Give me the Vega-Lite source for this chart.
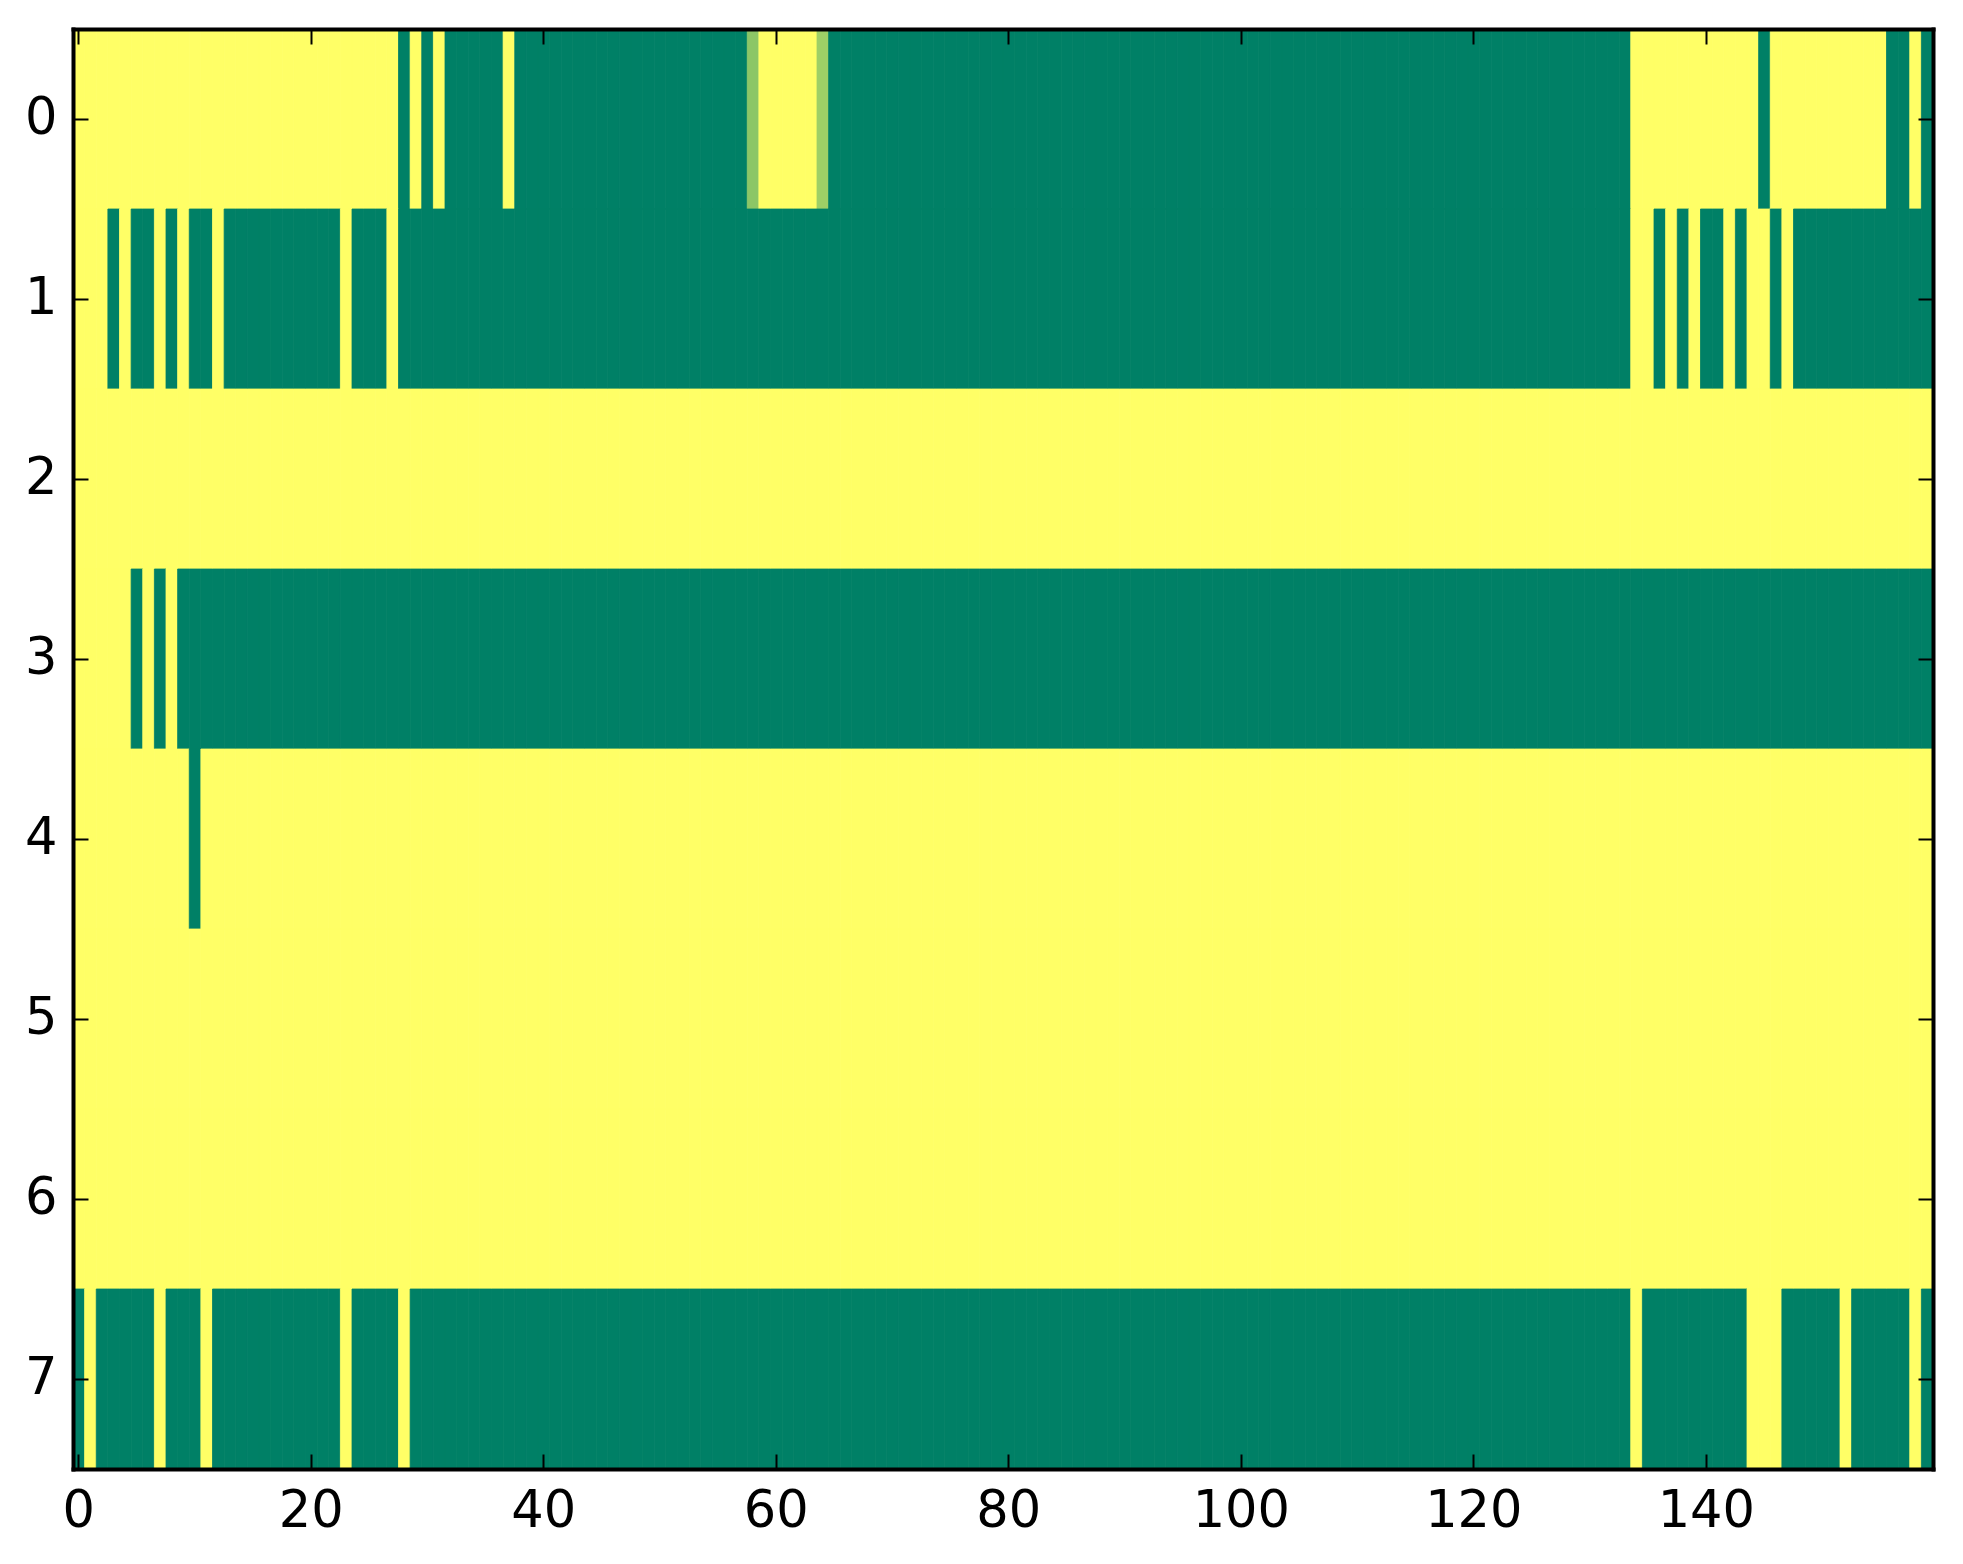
{
"$schema": "https://vega.github.io/schema/vega-lite/v6.json",
"width": 1860,
"height": 1440,
"autosize": {"type": "none"},
"padding": {"left": 73, "top": 29, "right": 30, "bottom": 95},
"background": "white",
"data": {"values": [
{"r":0,"c":0,"v":1},{"r":0,"c":1,"v":1},{"r":0,"c":2,"v":1},{"r":0,"c":3,"v":1},{"r":0,"c":4,"v":1},{"r":0,"c":5,"v":1},{"r":0,"c":6,"v":1},{"r":0,"c":7,"v":1},{"r":0,"c":8,"v":1},{"r":0,"c":9,"v":1},
{"r":0,"c":10,"v":1},{"r":0,"c":11,"v":1},{"r":0,"c":12,"v":1},{"r":0,"c":13,"v":1},{"r":0,"c":14,"v":1},{"r":0,"c":15,"v":1},{"r":0,"c":16,"v":1},{"r":0,"c":17,"v":1},{"r":0,"c":18,"v":1},{"r":0,"c":19,"v":1},
{"r":0,"c":20,"v":1},{"r":0,"c":21,"v":1},{"r":0,"c":22,"v":1},{"r":0,"c":23,"v":1},{"r":0,"c":24,"v":1},{"r":0,"c":25,"v":1},{"r":0,"c":26,"v":1},{"r":0,"c":27,"v":1},{"r":0,"c":28,"v":0},{"r":0,"c":29,"v":1},
{"r":0,"c":30,"v":0},{"r":0,"c":31,"v":1},{"r":0,"c":32,"v":0},{"r":0,"c":33,"v":0},{"r":0,"c":34,"v":0},{"r":0,"c":35,"v":0},{"r":0,"c":36,"v":0},{"r":0,"c":37,"v":1},{"r":0,"c":38,"v":0},{"r":0,"c":39,"v":0},
{"r":0,"c":40,"v":0},{"r":0,"c":41,"v":0},{"r":0,"c":42,"v":0},{"r":0,"c":43,"v":0},{"r":0,"c":44,"v":0},{"r":0,"c":45,"v":0},{"r":0,"c":46,"v":0},{"r":0,"c":47,"v":0},{"r":0,"c":48,"v":0},{"r":0,"c":49,"v":0},
{"r":0,"c":50,"v":0},{"r":0,"c":51,"v":0},{"r":0,"c":52,"v":0},{"r":0,"c":53,"v":0},{"r":0,"c":54,"v":0},{"r":0,"c":55,"v":0},{"r":0,"c":56,"v":0},{"r":0,"c":57,"v":0},{"r":0,"c":58,"v":0.55},{"r":0,"c":59,"v":1},
{"r":0,"c":60,"v":1},{"r":0,"c":61,"v":1},{"r":0,"c":62,"v":1},{"r":0,"c":63,"v":1},{"r":0,"c":64,"v":0.62},{"r":0,"c":65,"v":0},{"r":0,"c":66,"v":0},{"r":0,"c":67,"v":0},{"r":0,"c":68,"v":0},{"r":0,"c":69,"v":0},
{"r":0,"c":70,"v":0},{"r":0,"c":71,"v":0},{"r":0,"c":72,"v":0},{"r":0,"c":73,"v":0},{"r":0,"c":74,"v":0},{"r":0,"c":75,"v":0},{"r":0,"c":76,"v":0},{"r":0,"c":77,"v":0},{"r":0,"c":78,"v":0},{"r":0,"c":79,"v":0},
{"r":0,"c":80,"v":0},{"r":0,"c":81,"v":0},{"r":0,"c":82,"v":0},{"r":0,"c":83,"v":0},{"r":0,"c":84,"v":0},{"r":0,"c":85,"v":0},{"r":0,"c":86,"v":0},{"r":0,"c":87,"v":0},{"r":0,"c":88,"v":0},{"r":0,"c":89,"v":0},
{"r":0,"c":90,"v":0},{"r":0,"c":91,"v":0},{"r":0,"c":92,"v":0},{"r":0,"c":93,"v":0},{"r":0,"c":94,"v":0},{"r":0,"c":95,"v":0},{"r":0,"c":96,"v":0},{"r":0,"c":97,"v":0},{"r":0,"c":98,"v":0},{"r":0,"c":99,"v":0},
{"r":0,"c":100,"v":0},{"r":0,"c":101,"v":0},{"r":0,"c":102,"v":0},{"r":0,"c":103,"v":0},{"r":0,"c":104,"v":0},{"r":0,"c":105,"v":0},{"r":0,"c":106,"v":0},{"r":0,"c":107,"v":0},{"r":0,"c":108,"v":0},{"r":0,"c":109,"v":0},
{"r":0,"c":110,"v":0},{"r":0,"c":111,"v":0},{"r":0,"c":112,"v":0},{"r":0,"c":113,"v":0},{"r":0,"c":114,"v":0},{"r":0,"c":115,"v":0},{"r":0,"c":116,"v":0},{"r":0,"c":117,"v":0},{"r":0,"c":118,"v":0},{"r":0,"c":119,"v":0},
{"r":0,"c":120,"v":0},{"r":0,"c":121,"v":0},{"r":0,"c":122,"v":0},{"r":0,"c":123,"v":0},{"r":0,"c":124,"v":0},{"r":0,"c":125,"v":0},{"r":0,"c":126,"v":0},{"r":0,"c":127,"v":0},{"r":0,"c":128,"v":0},{"r":0,"c":129,"v":0},
{"r":0,"c":130,"v":0},{"r":0,"c":131,"v":0},{"r":0,"c":132,"v":0},{"r":0,"c":133,"v":0},{"r":0,"c":134,"v":1},{"r":0,"c":135,"v":1},{"r":0,"c":136,"v":1},{"r":0,"c":137,"v":1},{"r":0,"c":138,"v":1},{"r":0,"c":139,"v":1},
{"r":0,"c":140,"v":1},{"r":0,"c":141,"v":1},{"r":0,"c":142,"v":1},{"r":0,"c":143,"v":1},{"r":0,"c":144,"v":1},{"r":0,"c":145,"v":0},{"r":0,"c":146,"v":1},{"r":0,"c":147,"v":1},{"r":0,"c":148,"v":1},{"r":0,"c":149,"v":1},
{"r":0,"c":150,"v":1},{"r":0,"c":151,"v":1},{"r":0,"c":152,"v":1},{"r":0,"c":153,"v":1},{"r":0,"c":154,"v":1},{"r":0,"c":155,"v":1},{"r":0,"c":156,"v":0},{"r":0,"c":157,"v":0},{"r":0,"c":158,"v":1},{"r":0,"c":159,"v":0},
{"r":1,"c":0,"v":1},{"r":1,"c":1,"v":1},{"r":1,"c":2,"v":1},{"r":1,"c":3,"v":0},{"r":1,"c":4,"v":1},{"r":1,"c":5,"v":0},{"r":1,"c":6,"v":0},{"r":1,"c":7,"v":1},{"r":1,"c":8,"v":0},{"r":1,"c":9,"v":1},
{"r":1,"c":10,"v":0},{"r":1,"c":11,"v":0},{"r":1,"c":12,"v":1},{"r":1,"c":13,"v":0},{"r":1,"c":14,"v":0},{"r":1,"c":15,"v":0},{"r":1,"c":16,"v":0},{"r":1,"c":17,"v":0},{"r":1,"c":18,"v":0},{"r":1,"c":19,"v":0},
{"r":1,"c":20,"v":0},{"r":1,"c":21,"v":0},{"r":1,"c":22,"v":0},{"r":1,"c":23,"v":1},{"r":1,"c":24,"v":0},{"r":1,"c":25,"v":0},{"r":1,"c":26,"v":0},{"r":1,"c":27,"v":1},{"r":1,"c":28,"v":0},{"r":1,"c":29,"v":0},
{"r":1,"c":30,"v":0},{"r":1,"c":31,"v":0},{"r":1,"c":32,"v":0},{"r":1,"c":33,"v":0},{"r":1,"c":34,"v":0},{"r":1,"c":35,"v":0},{"r":1,"c":36,"v":0},{"r":1,"c":37,"v":0},{"r":1,"c":38,"v":0},{"r":1,"c":39,"v":0},
{"r":1,"c":40,"v":0},{"r":1,"c":41,"v":0},{"r":1,"c":42,"v":0},{"r":1,"c":43,"v":0},{"r":1,"c":44,"v":0},{"r":1,"c":45,"v":0},{"r":1,"c":46,"v":0},{"r":1,"c":47,"v":0},{"r":1,"c":48,"v":0},{"r":1,"c":49,"v":0},
{"r":1,"c":50,"v":0},{"r":1,"c":51,"v":0},{"r":1,"c":52,"v":0},{"r":1,"c":53,"v":0},{"r":1,"c":54,"v":0},{"r":1,"c":55,"v":0},{"r":1,"c":56,"v":0},{"r":1,"c":57,"v":0},{"r":1,"c":58,"v":0},{"r":1,"c":59,"v":0},
{"r":1,"c":60,"v":0},{"r":1,"c":61,"v":0},{"r":1,"c":62,"v":0},{"r":1,"c":63,"v":0},{"r":1,"c":64,"v":0},{"r":1,"c":65,"v":0},{"r":1,"c":66,"v":0},{"r":1,"c":67,"v":0},{"r":1,"c":68,"v":0},{"r":1,"c":69,"v":0},
{"r":1,"c":70,"v":0},{"r":1,"c":71,"v":0},{"r":1,"c":72,"v":0},{"r":1,"c":73,"v":0},{"r":1,"c":74,"v":0},{"r":1,"c":75,"v":0},{"r":1,"c":76,"v":0},{"r":1,"c":77,"v":0},{"r":1,"c":78,"v":0},{"r":1,"c":79,"v":0},
{"r":1,"c":80,"v":0},{"r":1,"c":81,"v":0},{"r":1,"c":82,"v":0},{"r":1,"c":83,"v":0},{"r":1,"c":84,"v":0},{"r":1,"c":85,"v":0},{"r":1,"c":86,"v":0},{"r":1,"c":87,"v":0},{"r":1,"c":88,"v":0},{"r":1,"c":89,"v":0},
{"r":1,"c":90,"v":0},{"r":1,"c":91,"v":0},{"r":1,"c":92,"v":0},{"r":1,"c":93,"v":0},{"r":1,"c":94,"v":0},{"r":1,"c":95,"v":0},{"r":1,"c":96,"v":0},{"r":1,"c":97,"v":0},{"r":1,"c":98,"v":0},{"r":1,"c":99,"v":0},
{"r":1,"c":100,"v":0},{"r":1,"c":101,"v":0},{"r":1,"c":102,"v":0},{"r":1,"c":103,"v":0},{"r":1,"c":104,"v":0},{"r":1,"c":105,"v":0},{"r":1,"c":106,"v":0},{"r":1,"c":107,"v":0},{"r":1,"c":108,"v":0},{"r":1,"c":109,"v":0},
{"r":1,"c":110,"v":0},{"r":1,"c":111,"v":0},{"r":1,"c":112,"v":0},{"r":1,"c":113,"v":0},{"r":1,"c":114,"v":0},{"r":1,"c":115,"v":0},{"r":1,"c":116,"v":0},{"r":1,"c":117,"v":0},{"r":1,"c":118,"v":0},{"r":1,"c":119,"v":0},
{"r":1,"c":120,"v":0},{"r":1,"c":121,"v":0},{"r":1,"c":122,"v":0},{"r":1,"c":123,"v":0},{"r":1,"c":124,"v":0},{"r":1,"c":125,"v":0},{"r":1,"c":126,"v":0},{"r":1,"c":127,"v":0},{"r":1,"c":128,"v":0},{"r":1,"c":129,"v":0},
{"r":1,"c":130,"v":0},{"r":1,"c":131,"v":0},{"r":1,"c":132,"v":0},{"r":1,"c":133,"v":0},{"r":1,"c":134,"v":1},{"r":1,"c":135,"v":1},{"r":1,"c":136,"v":0},{"r":1,"c":137,"v":1},{"r":1,"c":138,"v":0},{"r":1,"c":139,"v":1},
{"r":1,"c":140,"v":0},{"r":1,"c":141,"v":0},{"r":1,"c":142,"v":1},{"r":1,"c":143,"v":0},{"r":1,"c":144,"v":1},{"r":1,"c":145,"v":1},{"r":1,"c":146,"v":0},{"r":1,"c":147,"v":1},{"r":1,"c":148,"v":0},{"r":1,"c":149,"v":0},
{"r":1,"c":150,"v":0},{"r":1,"c":151,"v":0},{"r":1,"c":152,"v":0},{"r":1,"c":153,"v":0},{"r":1,"c":154,"v":0},{"r":1,"c":155,"v":0},{"r":1,"c":156,"v":0},{"r":1,"c":157,"v":0},{"r":1,"c":158,"v":0},{"r":1,"c":159,"v":0},
{"r":2,"c":0,"v":1},{"r":2,"c":1,"v":1},{"r":2,"c":2,"v":1},{"r":2,"c":3,"v":1},{"r":2,"c":4,"v":1},{"r":2,"c":5,"v":1},{"r":2,"c":6,"v":1},{"r":2,"c":7,"v":1},{"r":2,"c":8,"v":1},{"r":2,"c":9,"v":1},
{"r":2,"c":10,"v":1},{"r":2,"c":11,"v":1},{"r":2,"c":12,"v":1},{"r":2,"c":13,"v":1},{"r":2,"c":14,"v":1},{"r":2,"c":15,"v":1},{"r":2,"c":16,"v":1},{"r":2,"c":17,"v":1},{"r":2,"c":18,"v":1},{"r":2,"c":19,"v":1},
{"r":2,"c":20,"v":1},{"r":2,"c":21,"v":1},{"r":2,"c":22,"v":1},{"r":2,"c":23,"v":1},{"r":2,"c":24,"v":1},{"r":2,"c":25,"v":1},{"r":2,"c":26,"v":1},{"r":2,"c":27,"v":1},{"r":2,"c":28,"v":1},{"r":2,"c":29,"v":1},
{"r":2,"c":30,"v":1},{"r":2,"c":31,"v":1},{"r":2,"c":32,"v":1},{"r":2,"c":33,"v":1},{"r":2,"c":34,"v":1},{"r":2,"c":35,"v":1},{"r":2,"c":36,"v":1},{"r":2,"c":37,"v":1},{"r":2,"c":38,"v":1},{"r":2,"c":39,"v":1},
{"r":2,"c":40,"v":1},{"r":2,"c":41,"v":1},{"r":2,"c":42,"v":1},{"r":2,"c":43,"v":1},{"r":2,"c":44,"v":1},{"r":2,"c":45,"v":1},{"r":2,"c":46,"v":1},{"r":2,"c":47,"v":1},{"r":2,"c":48,"v":1},{"r":2,"c":49,"v":1},
{"r":2,"c":50,"v":1},{"r":2,"c":51,"v":1},{"r":2,"c":52,"v":1},{"r":2,"c":53,"v":1},{"r":2,"c":54,"v":1},{"r":2,"c":55,"v":1},{"r":2,"c":56,"v":1},{"r":2,"c":57,"v":1},{"r":2,"c":58,"v":1},{"r":2,"c":59,"v":1},
{"r":2,"c":60,"v":1},{"r":2,"c":61,"v":1},{"r":2,"c":62,"v":1},{"r":2,"c":63,"v":1},{"r":2,"c":64,"v":1},{"r":2,"c":65,"v":1},{"r":2,"c":66,"v":1},{"r":2,"c":67,"v":1},{"r":2,"c":68,"v":1},{"r":2,"c":69,"v":1},
{"r":2,"c":70,"v":1},{"r":2,"c":71,"v":1},{"r":2,"c":72,"v":1},{"r":2,"c":73,"v":1},{"r":2,"c":74,"v":1},{"r":2,"c":75,"v":1},{"r":2,"c":76,"v":1},{"r":2,"c":77,"v":1},{"r":2,"c":78,"v":1},{"r":2,"c":79,"v":1},
{"r":2,"c":80,"v":1},{"r":2,"c":81,"v":1},{"r":2,"c":82,"v":1},{"r":2,"c":83,"v":1},{"r":2,"c":84,"v":1},{"r":2,"c":85,"v":1},{"r":2,"c":86,"v":1},{"r":2,"c":87,"v":1},{"r":2,"c":88,"v":1},{"r":2,"c":89,"v":1},
{"r":2,"c":90,"v":1},{"r":2,"c":91,"v":1},{"r":2,"c":92,"v":1},{"r":2,"c":93,"v":1},{"r":2,"c":94,"v":1},{"r":2,"c":95,"v":1},{"r":2,"c":96,"v":1},{"r":2,"c":97,"v":1},{"r":2,"c":98,"v":1},{"r":2,"c":99,"v":1},
{"r":2,"c":100,"v":1},{"r":2,"c":101,"v":1},{"r":2,"c":102,"v":1},{"r":2,"c":103,"v":1},{"r":2,"c":104,"v":1},{"r":2,"c":105,"v":1},{"r":2,"c":106,"v":1},{"r":2,"c":107,"v":1},{"r":2,"c":108,"v":1},{"r":2,"c":109,"v":1},
{"r":2,"c":110,"v":1},{"r":2,"c":111,"v":1},{"r":2,"c":112,"v":1},{"r":2,"c":113,"v":1},{"r":2,"c":114,"v":1},{"r":2,"c":115,"v":1},{"r":2,"c":116,"v":1},{"r":2,"c":117,"v":1},{"r":2,"c":118,"v":1},{"r":2,"c":119,"v":1},
{"r":2,"c":120,"v":1},{"r":2,"c":121,"v":1},{"r":2,"c":122,"v":1},{"r":2,"c":123,"v":1},{"r":2,"c":124,"v":1},{"r":2,"c":125,"v":1},{"r":2,"c":126,"v":1},{"r":2,"c":127,"v":1},{"r":2,"c":128,"v":1},{"r":2,"c":129,"v":1},
{"r":2,"c":130,"v":1},{"r":2,"c":131,"v":1},{"r":2,"c":132,"v":1},{"r":2,"c":133,"v":1},{"r":2,"c":134,"v":1},{"r":2,"c":135,"v":1},{"r":2,"c":136,"v":1},{"r":2,"c":137,"v":1},{"r":2,"c":138,"v":1},{"r":2,"c":139,"v":1},
{"r":2,"c":140,"v":1},{"r":2,"c":141,"v":1},{"r":2,"c":142,"v":1},{"r":2,"c":143,"v":1},{"r":2,"c":144,"v":1},{"r":2,"c":145,"v":1},{"r":2,"c":146,"v":1},{"r":2,"c":147,"v":1},{"r":2,"c":148,"v":1},{"r":2,"c":149,"v":1},
{"r":2,"c":150,"v":1},{"r":2,"c":151,"v":1},{"r":2,"c":152,"v":1},{"r":2,"c":153,"v":1},{"r":2,"c":154,"v":1},{"r":2,"c":155,"v":1},{"r":2,"c":156,"v":1},{"r":2,"c":157,"v":1},{"r":2,"c":158,"v":1},{"r":2,"c":159,"v":1},
{"r":3,"c":0,"v":1},{"r":3,"c":1,"v":1},{"r":3,"c":2,"v":1},{"r":3,"c":3,"v":1},{"r":3,"c":4,"v":1},{"r":3,"c":5,"v":0},{"r":3,"c":6,"v":1},{"r":3,"c":7,"v":0},{"r":3,"c":8,"v":1},{"r":3,"c":9,"v":0},
{"r":3,"c":10,"v":0},{"r":3,"c":11,"v":0},{"r":3,"c":12,"v":0},{"r":3,"c":13,"v":0},{"r":3,"c":14,"v":0},{"r":3,"c":15,"v":0},{"r":3,"c":16,"v":0},{"r":3,"c":17,"v":0},{"r":3,"c":18,"v":0},{"r":3,"c":19,"v":0},
{"r":3,"c":20,"v":0},{"r":3,"c":21,"v":0},{"r":3,"c":22,"v":0},{"r":3,"c":23,"v":0},{"r":3,"c":24,"v":0},{"r":3,"c":25,"v":0},{"r":3,"c":26,"v":0},{"r":3,"c":27,"v":0},{"r":3,"c":28,"v":0},{"r":3,"c":29,"v":0},
{"r":3,"c":30,"v":0},{"r":3,"c":31,"v":0},{"r":3,"c":32,"v":0},{"r":3,"c":33,"v":0},{"r":3,"c":34,"v":0},{"r":3,"c":35,"v":0},{"r":3,"c":36,"v":0},{"r":3,"c":37,"v":0},{"r":3,"c":38,"v":0},{"r":3,"c":39,"v":0},
{"r":3,"c":40,"v":0},{"r":3,"c":41,"v":0},{"r":3,"c":42,"v":0},{"r":3,"c":43,"v":0},{"r":3,"c":44,"v":0},{"r":3,"c":45,"v":0},{"r":3,"c":46,"v":0},{"r":3,"c":47,"v":0},{"r":3,"c":48,"v":0},{"r":3,"c":49,"v":0},
{"r":3,"c":50,"v":0},{"r":3,"c":51,"v":0},{"r":3,"c":52,"v":0},{"r":3,"c":53,"v":0},{"r":3,"c":54,"v":0},{"r":3,"c":55,"v":0},{"r":3,"c":56,"v":0},{"r":3,"c":57,"v":0},{"r":3,"c":58,"v":0},{"r":3,"c":59,"v":0},
{"r":3,"c":60,"v":0},{"r":3,"c":61,"v":0},{"r":3,"c":62,"v":0},{"r":3,"c":63,"v":0},{"r":3,"c":64,"v":0},{"r":3,"c":65,"v":0},{"r":3,"c":66,"v":0},{"r":3,"c":67,"v":0},{"r":3,"c":68,"v":0},{"r":3,"c":69,"v":0},
{"r":3,"c":70,"v":0},{"r":3,"c":71,"v":0},{"r":3,"c":72,"v":0},{"r":3,"c":73,"v":0},{"r":3,"c":74,"v":0},{"r":3,"c":75,"v":0},{"r":3,"c":76,"v":0},{"r":3,"c":77,"v":0},{"r":3,"c":78,"v":0},{"r":3,"c":79,"v":0},
{"r":3,"c":80,"v":0},{"r":3,"c":81,"v":0},{"r":3,"c":82,"v":0},{"r":3,"c":83,"v":0},{"r":3,"c":84,"v":0},{"r":3,"c":85,"v":0},{"r":3,"c":86,"v":0},{"r":3,"c":87,"v":0},{"r":3,"c":88,"v":0},{"r":3,"c":89,"v":0},
{"r":3,"c":90,"v":0},{"r":3,"c":91,"v":0},{"r":3,"c":92,"v":0},{"r":3,"c":93,"v":0},{"r":3,"c":94,"v":0},{"r":3,"c":95,"v":0},{"r":3,"c":96,"v":0},{"r":3,"c":97,"v":0},{"r":3,"c":98,"v":0},{"r":3,"c":99,"v":0},
{"r":3,"c":100,"v":0},{"r":3,"c":101,"v":0},{"r":3,"c":102,"v":0},{"r":3,"c":103,"v":0},{"r":3,"c":104,"v":0},{"r":3,"c":105,"v":0},{"r":3,"c":106,"v":0},{"r":3,"c":107,"v":0},{"r":3,"c":108,"v":0},{"r":3,"c":109,"v":0},
{"r":3,"c":110,"v":0},{"r":3,"c":111,"v":0},{"r":3,"c":112,"v":0},{"r":3,"c":113,"v":0},{"r":3,"c":114,"v":0},{"r":3,"c":115,"v":0},{"r":3,"c":116,"v":0},{"r":3,"c":117,"v":0},{"r":3,"c":118,"v":0},{"r":3,"c":119,"v":0},
{"r":3,"c":120,"v":0},{"r":3,"c":121,"v":0},{"r":3,"c":122,"v":0},{"r":3,"c":123,"v":0},{"r":3,"c":124,"v":0},{"r":3,"c":125,"v":0},{"r":3,"c":126,"v":0},{"r":3,"c":127,"v":0},{"r":3,"c":128,"v":0},{"r":3,"c":129,"v":0},
{"r":3,"c":130,"v":0},{"r":3,"c":131,"v":0},{"r":3,"c":132,"v":0},{"r":3,"c":133,"v":0},{"r":3,"c":134,"v":0},{"r":3,"c":135,"v":0},{"r":3,"c":136,"v":0},{"r":3,"c":137,"v":0},{"r":3,"c":138,"v":0},{"r":3,"c":139,"v":0},
{"r":3,"c":140,"v":0},{"r":3,"c":141,"v":0},{"r":3,"c":142,"v":0},{"r":3,"c":143,"v":0},{"r":3,"c":144,"v":0},{"r":3,"c":145,"v":0},{"r":3,"c":146,"v":0},{"r":3,"c":147,"v":0},{"r":3,"c":148,"v":0},{"r":3,"c":149,"v":0},
{"r":3,"c":150,"v":0},{"r":3,"c":151,"v":0},{"r":3,"c":152,"v":0},{"r":3,"c":153,"v":0},{"r":3,"c":154,"v":0},{"r":3,"c":155,"v":0},{"r":3,"c":156,"v":0},{"r":3,"c":157,"v":0},{"r":3,"c":158,"v":0},{"r":3,"c":159,"v":0},
{"r":4,"c":0,"v":1},{"r":4,"c":1,"v":1},{"r":4,"c":2,"v":1},{"r":4,"c":3,"v":1},{"r":4,"c":4,"v":1},{"r":4,"c":5,"v":1},{"r":4,"c":6,"v":1},{"r":4,"c":7,"v":1},{"r":4,"c":8,"v":1},{"r":4,"c":9,"v":1},
{"r":4,"c":10,"v":0},{"r":4,"c":11,"v":1},{"r":4,"c":12,"v":1},{"r":4,"c":13,"v":1},{"r":4,"c":14,"v":1},{"r":4,"c":15,"v":1},{"r":4,"c":16,"v":1},{"r":4,"c":17,"v":1},{"r":4,"c":18,"v":1},{"r":4,"c":19,"v":1},
{"r":4,"c":20,"v":1},{"r":4,"c":21,"v":1},{"r":4,"c":22,"v":1},{"r":4,"c":23,"v":1},{"r":4,"c":24,"v":1},{"r":4,"c":25,"v":1},{"r":4,"c":26,"v":1},{"r":4,"c":27,"v":1},{"r":4,"c":28,"v":1},{"r":4,"c":29,"v":1},
{"r":4,"c":30,"v":1},{"r":4,"c":31,"v":1},{"r":4,"c":32,"v":1},{"r":4,"c":33,"v":1},{"r":4,"c":34,"v":1},{"r":4,"c":35,"v":1},{"r":4,"c":36,"v":1},{"r":4,"c":37,"v":1},{"r":4,"c":38,"v":1},{"r":4,"c":39,"v":1},
{"r":4,"c":40,"v":1},{"r":4,"c":41,"v":1},{"r":4,"c":42,"v":1},{"r":4,"c":43,"v":1},{"r":4,"c":44,"v":1},{"r":4,"c":45,"v":1},{"r":4,"c":46,"v":1},{"r":4,"c":47,"v":1},{"r":4,"c":48,"v":1},{"r":4,"c":49,"v":1},
{"r":4,"c":50,"v":1},{"r":4,"c":51,"v":1},{"r":4,"c":52,"v":1},{"r":4,"c":53,"v":1},{"r":4,"c":54,"v":1},{"r":4,"c":55,"v":1},{"r":4,"c":56,"v":1},{"r":4,"c":57,"v":1},{"r":4,"c":58,"v":1},{"r":4,"c":59,"v":1},
{"r":4,"c":60,"v":1},{"r":4,"c":61,"v":1},{"r":4,"c":62,"v":1},{"r":4,"c":63,"v":1},{"r":4,"c":64,"v":1},{"r":4,"c":65,"v":1},{"r":4,"c":66,"v":1},{"r":4,"c":67,"v":1},{"r":4,"c":68,"v":1},{"r":4,"c":69,"v":1},
{"r":4,"c":70,"v":1},{"r":4,"c":71,"v":1},{"r":4,"c":72,"v":1},{"r":4,"c":73,"v":1},{"r":4,"c":74,"v":1},{"r":4,"c":75,"v":1},{"r":4,"c":76,"v":1},{"r":4,"c":77,"v":1},{"r":4,"c":78,"v":1},{"r":4,"c":79,"v":1},
{"r":4,"c":80,"v":1},{"r":4,"c":81,"v":1},{"r":4,"c":82,"v":1},{"r":4,"c":83,"v":1},{"r":4,"c":84,"v":1},{"r":4,"c":85,"v":1},{"r":4,"c":86,"v":1},{"r":4,"c":87,"v":1},{"r":4,"c":88,"v":1},{"r":4,"c":89,"v":1},
{"r":4,"c":90,"v":1},{"r":4,"c":91,"v":1},{"r":4,"c":92,"v":1},{"r":4,"c":93,"v":1},{"r":4,"c":94,"v":1},{"r":4,"c":95,"v":1},{"r":4,"c":96,"v":1},{"r":4,"c":97,"v":1},{"r":4,"c":98,"v":1},{"r":4,"c":99,"v":1},
{"r":4,"c":100,"v":1},{"r":4,"c":101,"v":1},{"r":4,"c":102,"v":1},{"r":4,"c":103,"v":1},{"r":4,"c":104,"v":1},{"r":4,"c":105,"v":1},{"r":4,"c":106,"v":1},{"r":4,"c":107,"v":1},{"r":4,"c":108,"v":1},{"r":4,"c":109,"v":1},
{"r":4,"c":110,"v":1},{"r":4,"c":111,"v":1},{"r":4,"c":112,"v":1},{"r":4,"c":113,"v":1},{"r":4,"c":114,"v":1},{"r":4,"c":115,"v":1},{"r":4,"c":116,"v":1},{"r":4,"c":117,"v":1},{"r":4,"c":118,"v":1},{"r":4,"c":119,"v":1},
{"r":4,"c":120,"v":1},{"r":4,"c":121,"v":1},{"r":4,"c":122,"v":1},{"r":4,"c":123,"v":1},{"r":4,"c":124,"v":1},{"r":4,"c":125,"v":1},{"r":4,"c":126,"v":1},{"r":4,"c":127,"v":1},{"r":4,"c":128,"v":1},{"r":4,"c":129,"v":1},
{"r":4,"c":130,"v":1},{"r":4,"c":131,"v":1},{"r":4,"c":132,"v":1},{"r":4,"c":133,"v":1},{"r":4,"c":134,"v":1},{"r":4,"c":135,"v":1},{"r":4,"c":136,"v":1},{"r":4,"c":137,"v":1},{"r":4,"c":138,"v":1},{"r":4,"c":139,"v":1},
{"r":4,"c":140,"v":1},{"r":4,"c":141,"v":1},{"r":4,"c":142,"v":1},{"r":4,"c":143,"v":1},{"r":4,"c":144,"v":1},{"r":4,"c":145,"v":1},{"r":4,"c":146,"v":1},{"r":4,"c":147,"v":1},{"r":4,"c":148,"v":1},{"r":4,"c":149,"v":1},
{"r":4,"c":150,"v":1},{"r":4,"c":151,"v":1},{"r":4,"c":152,"v":1},{"r":4,"c":153,"v":1},{"r":4,"c":154,"v":1},{"r":4,"c":155,"v":1},{"r":4,"c":156,"v":1},{"r":4,"c":157,"v":1},{"r":4,"c":158,"v":1},{"r":4,"c":159,"v":1},
{"r":5,"c":0,"v":1},{"r":5,"c":1,"v":1},{"r":5,"c":2,"v":1},{"r":5,"c":3,"v":1},{"r":5,"c":4,"v":1},{"r":5,"c":5,"v":1},{"r":5,"c":6,"v":1},{"r":5,"c":7,"v":1},{"r":5,"c":8,"v":1},{"r":5,"c":9,"v":1},
{"r":5,"c":10,"v":1},{"r":5,"c":11,"v":1},{"r":5,"c":12,"v":1},{"r":5,"c":13,"v":1},{"r":5,"c":14,"v":1},{"r":5,"c":15,"v":1},{"r":5,"c":16,"v":1},{"r":5,"c":17,"v":1},{"r":5,"c":18,"v":1},{"r":5,"c":19,"v":1},
{"r":5,"c":20,"v":1},{"r":5,"c":21,"v":1},{"r":5,"c":22,"v":1},{"r":5,"c":23,"v":1},{"r":5,"c":24,"v":1},{"r":5,"c":25,"v":1},{"r":5,"c":26,"v":1},{"r":5,"c":27,"v":1},{"r":5,"c":28,"v":1},{"r":5,"c":29,"v":1},
{"r":5,"c":30,"v":1},{"r":5,"c":31,"v":1},{"r":5,"c":32,"v":1},{"r":5,"c":33,"v":1},{"r":5,"c":34,"v":1},{"r":5,"c":35,"v":1},{"r":5,"c":36,"v":1},{"r":5,"c":37,"v":1},{"r":5,"c":38,"v":1},{"r":5,"c":39,"v":1},
{"r":5,"c":40,"v":1},{"r":5,"c":41,"v":1},{"r":5,"c":42,"v":1},{"r":5,"c":43,"v":1},{"r":5,"c":44,"v":1},{"r":5,"c":45,"v":1},{"r":5,"c":46,"v":1},{"r":5,"c":47,"v":1},{"r":5,"c":48,"v":1},{"r":5,"c":49,"v":1},
{"r":5,"c":50,"v":1},{"r":5,"c":51,"v":1},{"r":5,"c":52,"v":1},{"r":5,"c":53,"v":1},{"r":5,"c":54,"v":1},{"r":5,"c":55,"v":1},{"r":5,"c":56,"v":1},{"r":5,"c":57,"v":1},{"r":5,"c":58,"v":1},{"r":5,"c":59,"v":1},
{"r":5,"c":60,"v":1},{"r":5,"c":61,"v":1},{"r":5,"c":62,"v":1},{"r":5,"c":63,"v":1},{"r":5,"c":64,"v":1},{"r":5,"c":65,"v":1},{"r":5,"c":66,"v":1},{"r":5,"c":67,"v":1},{"r":5,"c":68,"v":1},{"r":5,"c":69,"v":1},
{"r":5,"c":70,"v":1},{"r":5,"c":71,"v":1},{"r":5,"c":72,"v":1},{"r":5,"c":73,"v":1},{"r":5,"c":74,"v":1},{"r":5,"c":75,"v":1},{"r":5,"c":76,"v":1},{"r":5,"c":77,"v":1},{"r":5,"c":78,"v":1},{"r":5,"c":79,"v":1},
{"r":5,"c":80,"v":1},{"r":5,"c":81,"v":1},{"r":5,"c":82,"v":1},{"r":5,"c":83,"v":1},{"r":5,"c":84,"v":1},{"r":5,"c":85,"v":1},{"r":5,"c":86,"v":1},{"r":5,"c":87,"v":1},{"r":5,"c":88,"v":1},{"r":5,"c":89,"v":1},
{"r":5,"c":90,"v":1},{"r":5,"c":91,"v":1},{"r":5,"c":92,"v":1},{"r":5,"c":93,"v":1},{"r":5,"c":94,"v":1},{"r":5,"c":95,"v":1},{"r":5,"c":96,"v":1},{"r":5,"c":97,"v":1},{"r":5,"c":98,"v":1},{"r":5,"c":99,"v":1},
{"r":5,"c":100,"v":1},{"r":5,"c":101,"v":1},{"r":5,"c":102,"v":1},{"r":5,"c":103,"v":1},{"r":5,"c":104,"v":1},{"r":5,"c":105,"v":1},{"r":5,"c":106,"v":1},{"r":5,"c":107,"v":1},{"r":5,"c":108,"v":1},{"r":5,"c":109,"v":1},
{"r":5,"c":110,"v":1},{"r":5,"c":111,"v":1},{"r":5,"c":112,"v":1},{"r":5,"c":113,"v":1},{"r":5,"c":114,"v":1},{"r":5,"c":115,"v":1},{"r":5,"c":116,"v":1},{"r":5,"c":117,"v":1},{"r":5,"c":118,"v":1},{"r":5,"c":119,"v":1},
{"r":5,"c":120,"v":1},{"r":5,"c":121,"v":1},{"r":5,"c":122,"v":1},{"r":5,"c":123,"v":1},{"r":5,"c":124,"v":1},{"r":5,"c":125,"v":1},{"r":5,"c":126,"v":1},{"r":5,"c":127,"v":1},{"r":5,"c":128,"v":1},{"r":5,"c":129,"v":1},
{"r":5,"c":130,"v":1},{"r":5,"c":131,"v":1},{"r":5,"c":132,"v":1},{"r":5,"c":133,"v":1},{"r":5,"c":134,"v":1},{"r":5,"c":135,"v":1},{"r":5,"c":136,"v":1},{"r":5,"c":137,"v":1},{"r":5,"c":138,"v":1},{"r":5,"c":139,"v":1},
{"r":5,"c":140,"v":1},{"r":5,"c":141,"v":1},{"r":5,"c":142,"v":1},{"r":5,"c":143,"v":1},{"r":5,"c":144,"v":1},{"r":5,"c":145,"v":1},{"r":5,"c":146,"v":1},{"r":5,"c":147,"v":1},{"r":5,"c":148,"v":1},{"r":5,"c":149,"v":1},
{"r":5,"c":150,"v":1},{"r":5,"c":151,"v":1},{"r":5,"c":152,"v":1},{"r":5,"c":153,"v":1},{"r":5,"c":154,"v":1},{"r":5,"c":155,"v":1},{"r":5,"c":156,"v":1},{"r":5,"c":157,"v":1},{"r":5,"c":158,"v":1},{"r":5,"c":159,"v":1},
{"r":6,"c":0,"v":1},{"r":6,"c":1,"v":1},{"r":6,"c":2,"v":1},{"r":6,"c":3,"v":1},{"r":6,"c":4,"v":1},{"r":6,"c":5,"v":1},{"r":6,"c":6,"v":1},{"r":6,"c":7,"v":1},{"r":6,"c":8,"v":1},{"r":6,"c":9,"v":1},
{"r":6,"c":10,"v":1},{"r":6,"c":11,"v":1},{"r":6,"c":12,"v":1},{"r":6,"c":13,"v":1},{"r":6,"c":14,"v":1},{"r":6,"c":15,"v":1},{"r":6,"c":16,"v":1},{"r":6,"c":17,"v":1},{"r":6,"c":18,"v":1},{"r":6,"c":19,"v":1},
{"r":6,"c":20,"v":1},{"r":6,"c":21,"v":1},{"r":6,"c":22,"v":1},{"r":6,"c":23,"v":1},{"r":6,"c":24,"v":1},{"r":6,"c":25,"v":1},{"r":6,"c":26,"v":1},{"r":6,"c":27,"v":1},{"r":6,"c":28,"v":1},{"r":6,"c":29,"v":1},
{"r":6,"c":30,"v":1},{"r":6,"c":31,"v":1},{"r":6,"c":32,"v":1},{"r":6,"c":33,"v":1},{"r":6,"c":34,"v":1},{"r":6,"c":35,"v":1},{"r":6,"c":36,"v":1},{"r":6,"c":37,"v":1},{"r":6,"c":38,"v":1},{"r":6,"c":39,"v":1},
{"r":6,"c":40,"v":1},{"r":6,"c":41,"v":1},{"r":6,"c":42,"v":1},{"r":6,"c":43,"v":1},{"r":6,"c":44,"v":1},{"r":6,"c":45,"v":1},{"r":6,"c":46,"v":1},{"r":6,"c":47,"v":1},{"r":6,"c":48,"v":1},{"r":6,"c":49,"v":1},
{"r":6,"c":50,"v":1},{"r":6,"c":51,"v":1},{"r":6,"c":52,"v":1},{"r":6,"c":53,"v":1},{"r":6,"c":54,"v":1},{"r":6,"c":55,"v":1},{"r":6,"c":56,"v":1},{"r":6,"c":57,"v":1},{"r":6,"c":58,"v":1},{"r":6,"c":59,"v":1},
{"r":6,"c":60,"v":1},{"r":6,"c":61,"v":1},{"r":6,"c":62,"v":1},{"r":6,"c":63,"v":1},{"r":6,"c":64,"v":1},{"r":6,"c":65,"v":1},{"r":6,"c":66,"v":1},{"r":6,"c":67,"v":1},{"r":6,"c":68,"v":1},{"r":6,"c":69,"v":1},
{"r":6,"c":70,"v":1},{"r":6,"c":71,"v":1},{"r":6,"c":72,"v":1},{"r":6,"c":73,"v":1},{"r":6,"c":74,"v":1},{"r":6,"c":75,"v":1},{"r":6,"c":76,"v":1},{"r":6,"c":77,"v":1},{"r":6,"c":78,"v":1},{"r":6,"c":79,"v":1},
{"r":6,"c":80,"v":1},{"r":6,"c":81,"v":1},{"r":6,"c":82,"v":1},{"r":6,"c":83,"v":1},{"r":6,"c":84,"v":1},{"r":6,"c":85,"v":1},{"r":6,"c":86,"v":1},{"r":6,"c":87,"v":1},{"r":6,"c":88,"v":1},{"r":6,"c":89,"v":1},
{"r":6,"c":90,"v":1},{"r":6,"c":91,"v":1},{"r":6,"c":92,"v":1},{"r":6,"c":93,"v":1},{"r":6,"c":94,"v":1},{"r":6,"c":95,"v":1},{"r":6,"c":96,"v":1},{"r":6,"c":97,"v":1},{"r":6,"c":98,"v":1},{"r":6,"c":99,"v":1},
{"r":6,"c":100,"v":1},{"r":6,"c":101,"v":1},{"r":6,"c":102,"v":1},{"r":6,"c":103,"v":1},{"r":6,"c":104,"v":1},{"r":6,"c":105,"v":1},{"r":6,"c":106,"v":1},{"r":6,"c":107,"v":1},{"r":6,"c":108,"v":1},{"r":6,"c":109,"v":1},
{"r":6,"c":110,"v":1},{"r":6,"c":111,"v":1},{"r":6,"c":112,"v":1},{"r":6,"c":113,"v":1},{"r":6,"c":114,"v":1},{"r":6,"c":115,"v":1},{"r":6,"c":116,"v":1},{"r":6,"c":117,"v":1},{"r":6,"c":118,"v":1},{"r":6,"c":119,"v":1},
{"r":6,"c":120,"v":1},{"r":6,"c":121,"v":1},{"r":6,"c":122,"v":1},{"r":6,"c":123,"v":1},{"r":6,"c":124,"v":1},{"r":6,"c":125,"v":1},{"r":6,"c":126,"v":1},{"r":6,"c":127,"v":1},{"r":6,"c":128,"v":1},{"r":6,"c":129,"v":1},
{"r":6,"c":130,"v":1},{"r":6,"c":131,"v":1},{"r":6,"c":132,"v":1},{"r":6,"c":133,"v":1},{"r":6,"c":134,"v":1},{"r":6,"c":135,"v":1},{"r":6,"c":136,"v":1},{"r":6,"c":137,"v":1},{"r":6,"c":138,"v":1},{"r":6,"c":139,"v":1},
{"r":6,"c":140,"v":1},{"r":6,"c":141,"v":1},{"r":6,"c":142,"v":1},{"r":6,"c":143,"v":1},{"r":6,"c":144,"v":1},{"r":6,"c":145,"v":1},{"r":6,"c":146,"v":1},{"r":6,"c":147,"v":1},{"r":6,"c":148,"v":1},{"r":6,"c":149,"v":1},
{"r":6,"c":150,"v":1},{"r":6,"c":151,"v":1},{"r":6,"c":152,"v":1},{"r":6,"c":153,"v":1},{"r":6,"c":154,"v":1},{"r":6,"c":155,"v":1},{"r":6,"c":156,"v":1},{"r":6,"c":157,"v":1},{"r":6,"c":158,"v":1},{"r":6,"c":159,"v":1},
{"r":7,"c":0,"v":0},{"r":7,"c":1,"v":1},{"r":7,"c":2,"v":0},{"r":7,"c":3,"v":0},{"r":7,"c":4,"v":0},{"r":7,"c":5,"v":0},{"r":7,"c":6,"v":0},{"r":7,"c":7,"v":1},{"r":7,"c":8,"v":0},{"r":7,"c":9,"v":0},
{"r":7,"c":10,"v":0},{"r":7,"c":11,"v":1},{"r":7,"c":12,"v":0},{"r":7,"c":13,"v":0},{"r":7,"c":14,"v":0},{"r":7,"c":15,"v":0},{"r":7,"c":16,"v":0},{"r":7,"c":17,"v":0},{"r":7,"c":18,"v":0},{"r":7,"c":19,"v":0},
{"r":7,"c":20,"v":0},{"r":7,"c":21,"v":0},{"r":7,"c":22,"v":0},{"r":7,"c":23,"v":1},{"r":7,"c":24,"v":0},{"r":7,"c":25,"v":0},{"r":7,"c":26,"v":0},{"r":7,"c":27,"v":0},{"r":7,"c":28,"v":1},{"r":7,"c":29,"v":0},
{"r":7,"c":30,"v":0},{"r":7,"c":31,"v":0},{"r":7,"c":32,"v":0},{"r":7,"c":33,"v":0},{"r":7,"c":34,"v":0},{"r":7,"c":35,"v":0},{"r":7,"c":36,"v":0},{"r":7,"c":37,"v":0},{"r":7,"c":38,"v":0},{"r":7,"c":39,"v":0},
{"r":7,"c":40,"v":0},{"r":7,"c":41,"v":0},{"r":7,"c":42,"v":0},{"r":7,"c":43,"v":0},{"r":7,"c":44,"v":0},{"r":7,"c":45,"v":0},{"r":7,"c":46,"v":0},{"r":7,"c":47,"v":0},{"r":7,"c":48,"v":0},{"r":7,"c":49,"v":0},
{"r":7,"c":50,"v":0},{"r":7,"c":51,"v":0},{"r":7,"c":52,"v":0},{"r":7,"c":53,"v":0},{"r":7,"c":54,"v":0},{"r":7,"c":55,"v":0},{"r":7,"c":56,"v":0},{"r":7,"c":57,"v":0},{"r":7,"c":58,"v":0},{"r":7,"c":59,"v":0},
{"r":7,"c":60,"v":0},{"r":7,"c":61,"v":0},{"r":7,"c":62,"v":0},{"r":7,"c":63,"v":0},{"r":7,"c":64,"v":0},{"r":7,"c":65,"v":0},{"r":7,"c":66,"v":0},{"r":7,"c":67,"v":0},{"r":7,"c":68,"v":0},{"r":7,"c":69,"v":0},
{"r":7,"c":70,"v":0},{"r":7,"c":71,"v":0},{"r":7,"c":72,"v":0},{"r":7,"c":73,"v":0},{"r":7,"c":74,"v":0},{"r":7,"c":75,"v":0},{"r":7,"c":76,"v":0},{"r":7,"c":77,"v":0},{"r":7,"c":78,"v":0},{"r":7,"c":79,"v":0},
{"r":7,"c":80,"v":0},{"r":7,"c":81,"v":0},{"r":7,"c":82,"v":0},{"r":7,"c":83,"v":0},{"r":7,"c":84,"v":0},{"r":7,"c":85,"v":0},{"r":7,"c":86,"v":0},{"r":7,"c":87,"v":0},{"r":7,"c":88,"v":0},{"r":7,"c":89,"v":0},
{"r":7,"c":90,"v":0},{"r":7,"c":91,"v":0},{"r":7,"c":92,"v":0},{"r":7,"c":93,"v":0},{"r":7,"c":94,"v":0},{"r":7,"c":95,"v":0},{"r":7,"c":96,"v":0},{"r":7,"c":97,"v":0},{"r":7,"c":98,"v":0},{"r":7,"c":99,"v":0},
{"r":7,"c":100,"v":0},{"r":7,"c":101,"v":0},{"r":7,"c":102,"v":0},{"r":7,"c":103,"v":0},{"r":7,"c":104,"v":0},{"r":7,"c":105,"v":0},{"r":7,"c":106,"v":0},{"r":7,"c":107,"v":0},{"r":7,"c":108,"v":0},{"r":7,"c":109,"v":0},
{"r":7,"c":110,"v":0},{"r":7,"c":111,"v":0},{"r":7,"c":112,"v":0},{"r":7,"c":113,"v":0},{"r":7,"c":114,"v":0},{"r":7,"c":115,"v":0},{"r":7,"c":116,"v":0},{"r":7,"c":117,"v":0},{"r":7,"c":118,"v":0},{"r":7,"c":119,"v":0},
{"r":7,"c":120,"v":0},{"r":7,"c":121,"v":0},{"r":7,"c":122,"v":0},{"r":7,"c":123,"v":0},{"r":7,"c":124,"v":0},{"r":7,"c":125,"v":0},{"r":7,"c":126,"v":0},{"r":7,"c":127,"v":0},{"r":7,"c":128,"v":0},{"r":7,"c":129,"v":0},
{"r":7,"c":130,"v":0},{"r":7,"c":131,"v":0},{"r":7,"c":132,"v":0},{"r":7,"c":133,"v":0},{"r":7,"c":134,"v":1},{"r":7,"c":135,"v":0},{"r":7,"c":136,"v":0},{"r":7,"c":137,"v":0},{"r":7,"c":138,"v":0},{"r":7,"c":139,"v":0},
{"r":7,"c":140,"v":0},{"r":7,"c":141,"v":0},{"r":7,"c":142,"v":0},{"r":7,"c":143,"v":0},{"r":7,"c":144,"v":1},{"r":7,"c":145,"v":1},{"r":7,"c":146,"v":1},{"r":7,"c":147,"v":0},{"r":7,"c":148,"v":0},{"r":7,"c":149,"v":0},
{"r":7,"c":150,"v":0},{"r":7,"c":151,"v":0},{"r":7,"c":152,"v":1},{"r":7,"c":153,"v":0},{"r":7,"c":154,"v":0},{"r":7,"c":155,"v":0},{"r":7,"c":156,"v":0},{"r":7,"c":157,"v":0},{"r":7,"c":158,"v":1},{"r":7,"c":159,"v":0}
]},
"config": {
  "view": {"stroke": null},
  "axis": {
    "labelFont": "DejaVu Sans",
    "labelFontSize": 51,
    "labelColor": "black",
    "tickColor": "black",
    "tickWidth": 2,
    "domainColor": "black",
    "domainWidth": 4,
    "domainCap": "square",
    "grid": false,
    "title": null
  }
},
"layer": [
  {
    "mark": {"type": "rect", "strokeWidth": 0.8},
    "encoding": {
      "x": {"field": "c", "type": "ordinal", "scale": {"paddingInner": 0, "paddingOuter": 0},
            "axis": {"orient": "bottom", "values": [0,20,40,60,80,100,120,140], "labelAngle": 0, "tickSize": -15, "labelPadding": 32, "domain": true, "domainWidth": 4, "domainColor": "black", "ticks": true, "zindex": 1, "title": null}},
      "y": {"field": "r", "type": "ordinal", "scale": {"paddingInner": 0, "paddingOuter": 0},
            "axis": {"orient": "left", "tickSize": -15, "labelPadding": 31, "domain": true, "domainWidth": 4, "domainColor": "black", "ticks": true, "zindex": 1, "title": null}},
      "color": {"field": "v", "type": "quantitative", "scale": {"domain": [0, 1], "range": ["#008066", "#ffff66"], "interpolate": "rgb"}, "legend": null},
      "stroke": {"field": "v", "type": "quantitative", "scale": {"domain": [0, 1], "range": ["#008066", "#ffff66"], "interpolate": "rgb"}, "legend": null}
    }
  },
  {
    "transform": [{"filter": "datum.r == 0 && datum.c == 0"}],
    "mark": {"type": "rect", "opacity": 0},
    "encoding": {
      "x": {"field": "c", "type": "ordinal",
            "axis": {"orient": "top", "values": [0,20,40,60,80,100,120,140], "labels": false, "tickSize": -15, "domain": true, "domainWidth": 4, "domainColor": "black", "ticks": true, "zindex": 1, "title": null}},
      "y": {"field": "r", "type": "ordinal",
            "axis": {"orient": "right", "labels": false, "tickSize": -15, "domain": true, "domainWidth": 4, "domainColor": "black", "ticks": true, "zindex": 1, "title": null}}
    }
  }
]
}
